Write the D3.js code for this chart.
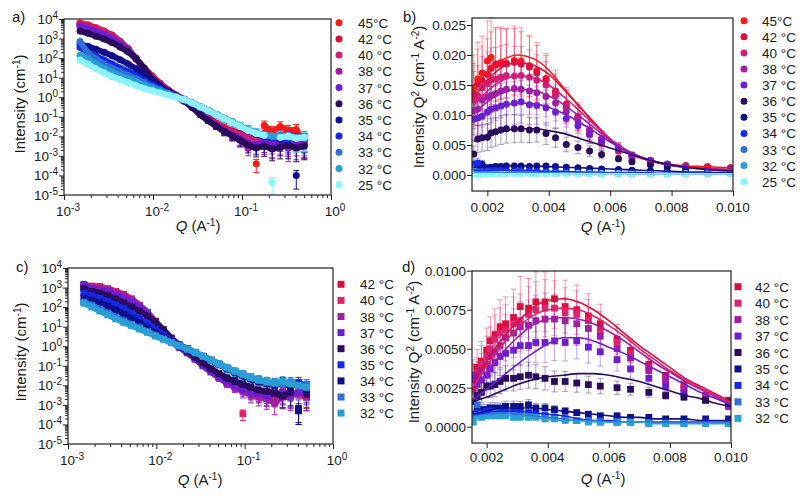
<!DOCTYPE html>
<meta charset="utf-8">
<script src="https://cdn.jsdelivr.net/npm/d3@7"></script>
<style>
body { margin: 0; background: #fff; }
svg text { font-family: "Liberation Sans", Arial, sans-serif; fill: #1a1a1a; }
.tick-label { font-size: 13.5px; }
.axis-title { font-size: 15px; }
.legend-label { font-size: 13.5px; }
.panel-label { font-size: 15px; }
.tick line { stroke: #222; }
</style>
<div id="vis"></div>
<script>

// ---------- legends / colours ----------
var labelsAB = ["45°C", "42 °C", "40 °C", "38 °C", "37 °C", "36 °C", "35 °C", "34 °C", "33 °C", "32 °C", "25 °C"];
var colorsAB = ["#ff1a1a", "#dc0f3c", "#d01e78", "#a01ea5", "#6e1ed2", "#2a0b5e", "#0f0f8c", "#1428e6", "#2f6fd8", "#2a9ed6", "#8ef2fa"];
var labelsCD = ["42 °C", "40 °C", "38 °C", "37 °C", "36 °C", "35 °C", "34 °C", "33 °C", "32 °C"];
var colorsC = ["#d8103c", "#e0226e", "#a01ea5", "#6e1ed2", "#2a0b5e", "#1428e6", "#0f0f8c", "#2f6fd8", "#2a9ed6"];
var colorsD = ["#d8103c", "#e0226e", "#a01ea5", "#6e1ed2", "#2a0b5e", "#0f0f8c", "#1428e6", "#2f6fd8", "#2a9ed6"];

// ---------- panels a and c: log10 Q grid and log10 intensity ----------
var logQ = [-2.82, -2.73, -2.64, -2.55, -2.46, -2.37, -2.28, -2.19, -2.10, -2.01, -1.92, -1.83, -1.74, -1.65, -1.56,
            -1.47, -1.38, -1.29, -1.20, -1.11, -1.02, -0.93, -0.84, -0.75, -0.66, -0.57, -0.48, -0.39, -0.30];
// relative error (sigma / I) at each Q of the log panels
var errRelLog = [0.02, 0.02, 0.02, 0.02, 0.02, 0.02, 0.02, 0.02, 0.03, 0.03, 0.04, 0.05, 0.06, 0.08, 0.12,
                 0.18, 0.25, 0.32, 0.40, 0.45, 0.55, 0.60, 0.65, 0.70, 0.75, 0.75, 0.80, 0.80, 0.80];

var a45 = [3.80, 3.70, 3.55, 3.38, 3.18, 2.86, 2.46, 1.95, 1.48, 1.10, 0.72, 0.38, 0.12, -0.10, -0.40, -0.78, -1.05, -1.32, -1.55, -1.72, -1.80, -1.75, -3.40, -1.45, -1.75, -1.50, -1.70, -1.65, -2.40];
var a42 = [3.77, 3.66, 3.53, 3.37, 3.17, 2.85, 2.49, 1.96, 1.46, 1.06, 0.70, 0.36, 0.10, -0.12, -0.42, -0.80, -1.08, -1.35, -1.58, -1.75, -1.88, -1.95, -2.05, -1.85, -2.15, -2.05, -1.80, -2.00, -2.15];
var a40 = [3.74, 3.62, 3.48, 3.32, 3.12, 2.81, 2.46, 1.98, 1.46, 1.02, 0.68, 0.34, 0.08, -0.14, -0.45, -0.82, -1.12, -1.38, -1.62, -1.80, -1.95, -2.10, -2.20, -2.05, -2.30, -2.15, -2.25, -2.10, -2.30];
var a38 = [3.67, 3.56, 3.42, 3.26, 3.06, 2.77, 2.45, 1.98, 1.46, 0.97, 0.65, 0.32, 0.06, -0.16, -0.48, -0.85, -1.15, -1.42, -1.68, -1.90, -2.10, -2.60, -2.50, -2.40, -2.55, -2.35, -2.60, -2.30, -2.40];
var a37 = [3.61, 3.48, 3.34, 3.18, 2.98, 2.71, 2.42, 1.98, 1.46, 0.92, 0.60, 0.30, 0.05, -0.18, -0.50, -0.86, -1.18, -1.45, -1.72, -1.95, -2.15, -2.35, -2.45, -2.30, -2.50, -2.40, -2.35, -2.50, -2.45];
var a36 = [3.38, 3.27, 3.12, 2.98, 2.80, 2.57, 2.32, 1.98, 1.50, 0.95, 0.60, 0.30, 0.05, -0.20, -0.52, -0.90, -1.20, -1.48, -1.75, -1.98, -2.20, -2.45, -2.60, -2.50, -2.65, -2.55, -2.45, -2.60, -2.50];
var a35 = [2.72, 2.60, 2.45, 2.30, 2.12, 1.92, 1.70, 1.45, 1.15, 0.85, 0.55, 0.30, 0.08, -0.12, -0.30, -0.50, -0.70, -0.90, -1.10, -1.30, -1.50, -1.70, -1.90, -2.00, -2.05, -2.15, -2.00, -4.00, -2.10];
var a34 = [2.55, 2.30, 2.10, 1.90, 1.70, 1.50, 1.30, 1.10, 0.85, 0.62, 0.42, 0.22, 0.05, -0.12, -0.30, -0.50, -0.70, -0.90, -1.10, -1.30, -1.52, -1.72, -1.88, -2.00, -2.10, -2.05, -2.15, -2.00, -2.10];
var a33 = [2.85, 2.25, 1.95, 1.70, 1.50, 1.30, 1.12, 0.95, 0.75, 0.55, 0.38, 0.20, 0.04, -0.12, -0.30, -0.48, -0.68, -0.88, -1.08, -1.28, -1.48, -1.68, -1.85, -1.95, -2.00, -1.95, -2.05, -2.10, -2.00];
var a32 = [2.15, 1.95, 1.70, 1.48, 1.28, 1.10, 0.95, 0.80, 0.62, 0.46, 0.30, 0.16, 0.02, -0.14, -0.30, -0.50, -0.68, -0.88, -1.08, -1.28, -1.48, -1.66, -1.82, -1.92, -1.98, -2.05, -1.95, -2.05, -2.10];
var a25 = [1.90, 1.68, 1.45, 1.25, 1.05, 0.90, 0.75, 0.60, 0.45, 0.33, 0.22, 0.10, 0.00, -0.12, -0.30, -0.50, -0.70, -0.90, -1.10, -1.30, -1.50, -1.70, -1.85, -1.95, -4.35, -2.05, -2.00, -2.10, -2.05];

var c42 = [3.05, 3.08, 3.05, 2.94, 2.81, 2.65, 2.42, 2.10, 1.73, 1.28, 0.75, 0.30, 0.00, -0.28, -0.60, -0.95, -1.28, -1.55, -1.78, -1.95, -2.10, -2.25, -2.35, -2.40, -2.50, -2.40, -2.45, -2.35, -2.50];
var c40 = [3.12, 3.04, 3.02, 2.92, 2.79, 2.62, 2.40, 2.09, 1.72, 1.25, 0.72, 0.28, -0.02, -0.30, -0.62, -0.98, -1.30, -1.60, -1.85, -2.05, -3.45, -2.30, -2.45, -2.50, -2.45, -2.55, -2.40, -2.50, -2.60];
var c38 = [3.16, 3.02, 2.98, 2.89, 2.75, 2.58, 2.37, 2.07, 1.71, 1.20, 0.70, 0.26, -0.04, -0.32, -0.65, -1.00, -1.32, -1.62, -1.90, -2.10, -2.30, -2.50, -2.60, -2.70, -2.90, -2.60, -2.60, -3.30, -2.60];
var c37 = [3.13, 2.92, 2.82, 2.79, 2.65, 2.47, 2.28, 2.01, 1.68, 1.13, 0.66, 0.24, -0.06, -0.34, -0.66, -1.00, -1.30, -1.58, -1.82, -2.00, -2.20, -2.35, -2.40, -2.55, -2.45, -2.35, -2.50, -2.40, -2.30];
var c36 = [2.95, 2.80, 2.71, 2.59, 2.43, 2.22, 2.01, 1.78, 1.54, 1.25, 0.85, 0.42, 0.05, -0.25, -0.55, -0.85, -1.15, -1.40, -1.62, -1.80, -1.95, -2.10, -2.25, -2.30, -2.40, -2.55, -2.35, -3.20, -2.45];
var c35 = [2.70, 2.58, 2.45, 2.30, 2.12, 1.92, 1.68, 1.42, 1.15, 0.88, 0.58, 0.30, 0.08, -0.12, -0.32, -0.52, -0.72, -0.92, -1.12, -1.32, -1.50, -1.65, -1.78, -1.85, -1.95, -1.90, -2.00, -1.85, -2.05];
var c34 = [2.45, 2.35, 2.22, 2.05, 1.85, 1.65, 1.42, 1.18, 0.92, 0.68, 0.45, 0.24, 0.05, -0.14, -0.34, -0.54, -0.74, -0.94, -1.14, -1.34, -1.52, -1.68, -1.82, -1.92, -2.00, -1.85, -2.10, -3.30, -2.20];
var c33 = [2.25, 2.10, 1.90, 1.70, 1.50, 1.30, 1.12, 0.95, 0.75, 0.55, 0.38, 0.20, 0.03, -0.14, -0.32, -0.50, -0.70, -0.90, -1.10, -1.28, -1.45, -1.62, -1.75, -1.85, -1.90, -1.95, -1.85, -2.05, -1.95];
var c32 = [2.20, 2.00, 1.80, 1.60, 1.40, 1.22, 1.05, 0.88, 0.70, 0.52, 0.35, 0.18, 0.02, -0.15, -0.33, -0.52, -0.72, -0.92, -1.10, -1.28, -1.45, -1.60, -1.72, -1.82, -1.88, -1.80, -1.92, -2.00, -2.10];

// ---------- panels b and d: I*Q^2 on a linear Q grid ----------
var qS = [0.00156, 0.00169, 0.00183, 0.00200, 0.00212, 0.00227, 0.00244, 0.00262, 0.00288, 0.00310, 0.00337, 0.00361, 0.00391,
          0.00422, 0.00457, 0.00495, 0.00533, 0.00572, 0.00627, 0.00671, 0.00731, 0.00786, 0.00846, 0.00917, 0.00992];
var errRelB = [0.38, 0.38, 0.36, 0.35, 0.34, 0.33, 0.32, 0.31, 0.30, 0.29, 0.28, 0.27, 0.26, 0.25, 0.24, 0.23, 0.22, 0.20, 0.18, 0.15, 0.12, 0.10, 0.08, 0.06, 0.05];
var errRelD = [0.30, 0.30, 0.30, 0.29, 0.28, 0.28, 0.27, 0.26, 0.26, 0.25, 0.25, 0.24, 0.24, 0.23, 0.22, 0.21, 0.20, 0.19, 0.17, 0.16, 0.14, 0.12, 0.11, 0.10, 0.09];

var b45 = [0.0145, 0.0160, 0.0170, 0.0190, 0.0196, 0.0183, 0.0185, 0.0186, 0.0191, 0.0190, 0.0182, 0.0174, 0.0161, 0.0135, 0.0112, 0.0096, 0.0067, 0.0053, 0.0040, 0.0027, 0.0020, 0.0018, 0.0016, 0.0014, 0.0012];
var b42 = [0.0135, 0.0152, 0.0158, 0.0168, 0.0178, 0.0185, 0.0187, 0.0186, 0.0188, 0.0185, 0.0180, 0.0170, 0.0158, 0.0140, 0.0118, 0.0098, 0.0075, 0.0060, 0.0045, 0.0032, 0.0024, 0.0018, 0.0015, 0.0013, 0.0012];
var b40 = [0.0125, 0.0132, 0.0145, 0.0152, 0.0158, 0.0160, 0.0163, 0.0166, 0.0165, 0.0166, 0.0163, 0.0158, 0.0150, 0.0132, 0.0115, 0.0095, 0.0075, 0.0060, 0.0046, 0.0033, 0.0024, 0.0018, 0.0014, 0.0012, 0.0011];
var b38 = [0.0107, 0.0110, 0.0125, 0.0130, 0.0133, 0.0136, 0.0140, 0.0143, 0.0144, 0.0143, 0.0140, 0.0137, 0.0131, 0.0120, 0.0105, 0.0090, 0.0073, 0.0058, 0.0045, 0.0033, 0.0024, 0.0018, 0.0014, 0.0011, 0.0010];
var b37 = [0.0093, 0.0095, 0.0098, 0.0105, 0.0110, 0.0112, 0.0115, 0.0118, 0.0120, 0.0122, 0.0117, 0.0116, 0.0112, 0.0105, 0.0094, 0.0082, 0.0068, 0.0055, 0.0043, 0.0032, 0.0024, 0.0018, 0.0014, 0.0011, 0.0009];
var b36 = [0.0035, 0.0060, 0.0062, 0.0063, 0.0070, 0.0072, 0.0075, 0.0077, 0.0077, 0.0077, 0.0075, 0.0075, 0.0069, 0.0062, 0.0051, 0.0046, 0.0040, 0.0034, 0.0027, 0.0022, 0.0017, 0.0013, 0.0010, 0.0009, 0.0008];
var b35 = [0.0012, 0.0016, 0.0018, 0.0012, 0.0013, 0.0014, 0.0014, 0.0015, 0.0015, 0.0015, 0.0014, 0.0015, 0.0015, 0.0014, 0.0013, 0.0012, 0.0011, 0.0010, 0.0009, 0.0008, 0.0007, 0.0006, 0.0005, 0.0005, 0.0004];
var b34 = [0.0018, 0.0020, 0.0009, 0.0008, 0.0008, 0.0008, 0.0008, 0.0007, 0.0007, 0.0007, 0.0007, 0.0006, 0.0006, 0.0006, 0.0005, 0.0005, 0.0005, 0.0004, 0.0004, 0.0004, 0.0003, 0.0003, 0.0003, 0.0003, 0.0003];
var b33 = [0.0010, 0.0005, 0.0005, 0.0005, 0.0004, 0.0004, 0.0004, 0.0004, 0.0004, 0.0004, 0.0003, 0.0003, 0.0003, 0.0003, 0.0003, 0.0003, 0.0003, 0.0002, 0.0002, 0.0002, 0.0002, 0.0002, 0.0002, 0.0002, 0.0002];
var b32 = [0.0006, 0.0004, 0.0003, 0.0003, 0.0003, 0.0003, 0.0003, 0.0003, 0.0003, 0.0003, 0.0003, 0.0002, 0.0002, 0.0002, 0.0002, 0.0002, 0.0002, 0.0002, 0.0002, 0.0002, 0.0002, 0.0002, 0.0002, 0.0002, 0.0002];
var b25 = [0.0002, 0.0000, 0.0001, 0.0002, 0.0002, 0.0002, 0.0002, 0.0002, 0.0002, 0.0002, 0.0002, 0.0002, 0.0002, 0.0002, 0.0002, 0.0002, 0.0002, 0.0002, 0.0002, 0.0002, 0.0002, 0.0002, 0.0002, 0.0002, 0.0002];

var d42 = [0.0024, 0.0038, 0.0042, 0.0049, 0.0055, 0.0059, 0.0064, 0.0066, 0.0070, 0.0077, 0.0076, 0.0080, 0.0080, 0.0082, 0.0077, 0.0075, 0.0071, 0.0066, 0.0056, 0.0049, 0.0040, 0.0033, 0.0027, 0.0020, 0.0017];
var d40 = [0.0030, 0.0034, 0.0040, 0.0045, 0.0050, 0.0056, 0.0060, 0.0062, 0.0066, 0.0068, 0.0072, 0.0075, 0.0076, 0.0076, 0.0073, 0.0072, 0.0068, 0.0062, 0.0054, 0.0047, 0.0038, 0.0031, 0.0025, 0.0019, 0.0016];
var d38 = [0.0033, 0.0032, 0.0036, 0.0040, 0.0045, 0.0048, 0.0052, 0.0057, 0.0060, 0.0064, 0.0065, 0.0068, 0.0069, 0.0069, 0.0068, 0.0066, 0.0063, 0.0058, 0.0050, 0.0044, 0.0036, 0.0030, 0.0024, 0.0018, 0.0014];
var d37 = [0.0031, 0.0027, 0.0030, 0.0033, 0.0037, 0.0041, 0.0045, 0.0047, 0.0049, 0.0052, 0.0052, 0.0054, 0.0054, 0.0055, 0.0054, 0.0055, 0.0051, 0.0048, 0.0043, 0.0037, 0.0031, 0.0026, 0.0021, 0.0017, 0.0013];
var d36 = [0.0016, 0.0020, 0.0022, 0.0026, 0.0026, 0.0027, 0.0029, 0.0031, 0.0031, 0.0032, 0.0033, 0.0032, 0.0031, 0.0029, 0.0029, 0.0028, 0.0027, 0.0026, 0.0025, 0.0024, 0.0022, 0.0020, 0.0019, 0.0017, 0.0016];
var d35 = [0.0008, 0.0010, 0.0011, 0.0011, 0.0012, 0.0012, 0.0012, 0.0013, 0.0013, 0.0013, 0.0014, 0.0012, 0.0012, 0.0011, 0.0010, 0.0009, 0.0008, 0.0007, 0.0007, 0.0006, 0.0006, 0.0005, 0.0005, 0.0005, 0.0005];
var d34 = [0.0007, 0.0009, 0.0009, 0.0010, 0.0010, 0.0010, 0.0010, 0.0010, 0.0009, 0.0009, 0.0009, 0.0008, 0.0007, 0.0006, 0.0005, 0.0004, 0.0004, 0.0004, 0.0003, 0.0003, 0.0003, 0.0003, 0.0003, 0.0003, 0.0003];
var d33 = [0.0006, 0.0014, 0.0008, 0.0008, 0.0008, 0.0009, 0.0008, 0.0008, 0.0008, 0.0007, 0.0007, 0.0007, 0.0006, 0.0006, 0.0005, 0.0004, 0.0004, 0.0003, 0.0003, 0.0003, 0.0003, 0.0003, 0.0002, 0.0002, 0.0002];
var d32 = [0.0003, 0.0007, 0.0006, 0.0007, 0.0007, 0.0007, 0.0007, 0.0007, 0.0006, 0.0006, 0.0006, 0.0006, 0.0005, 0.0005, 0.0004, 0.0004, 0.0003, 0.0003, 0.0003, 0.0003, 0.0002, 0.0002, 0.0002, 0.0002, 0.0002];

// fitted curves (panels b and d)
var qFit = [0.00155, 0.0020, 0.0025, 0.0030, 0.0035, 0.0040, 0.0045, 0.0050, 0.0055, 0.0060, 0.0065, 0.0070, 0.0075, 0.0080, 0.0085, 0.0090, 0.0095, 0.0100];
var fb45 = [0.0150, 0.0172, 0.0192, 0.0200, 0.0194, 0.0175, 0.0144, 0.0114, 0.0086, 0.0058, 0.0039, 0.0028, 0.0021, 0.0017, 0.0015, 0.0014, 0.0013, 0.0012];
var fb42 = [0.0128, 0.0158, 0.0180, 0.0187, 0.0183, 0.0168, 0.0142, 0.0114, 0.0086, 0.0060, 0.0041, 0.0029, 0.0021, 0.0016, 0.0013, 0.0011, 0.0010, 0.0009];
var fb40 = [0.0115, 0.0140, 0.0158, 0.0165, 0.0162, 0.0150, 0.0130, 0.0107, 0.0083, 0.0060, 0.0042, 0.0029, 0.0021, 0.0016, 0.0013, 0.0011, 0.0010, 0.0009];
var fb38 = [0.0102, 0.0122, 0.0137, 0.0143, 0.0141, 0.0132, 0.0117, 0.0098, 0.0078, 0.0058, 0.0042, 0.0030, 0.0022, 0.0016, 0.0013, 0.0011, 0.0009, 0.0008];
var fb37 = [0.0088, 0.0104, 0.0115, 0.0120, 0.0119, 0.0113, 0.0102, 0.0088, 0.0072, 0.0055, 0.0041, 0.0030, 0.0022, 0.0016, 0.0012, 0.0010, 0.0008, 0.0007];
var fb36 = [0.0056, 0.0066, 0.0073, 0.0077, 0.0077, 0.0074, 0.0069, 0.0061, 0.0053, 0.0045, 0.0037, 0.0029, 0.0022, 0.0017, 0.0013, 0.0010, 0.0008, 0.0007];
var fb35 = [0.0013, 0.0014, 0.0015, 0.0015, 0.0015, 0.0014, 0.0013, 0.0012, 0.0011, 0.0010, 0.0009, 0.0008, 0.0007, 0.0006, 0.0005, 0.0005, 0.0004, 0.0004];
var fb34 = [0.0008, 0.0008, 0.0008, 0.0007, 0.0007, 0.0006, 0.0006, 0.0005, 0.0005, 0.0004, 0.0004, 0.0004, 0.0003, 0.0003, 0.0003, 0.0003, 0.0003, 0.0003];
var fb33 = [0.0005, 0.0005, 0.0004, 0.0004, 0.0004, 0.0004, 0.0003, 0.0003, 0.0003, 0.0003, 0.0003, 0.0002, 0.0002, 0.0002, 0.0002, 0.0002, 0.0002, 0.0002];
var fb32 = [0.0003, 0.0003, 0.0003, 0.0003, 0.0003, 0.0003, 0.0002, 0.0002, 0.0002, 0.0002, 0.0002, 0.0002, 0.0002, 0.0002, 0.0002, 0.0002, 0.0002, 0.0002];
var fb25 = [0.0002, 0.0002, 0.0002, 0.0002, 0.0002, 0.0002, 0.0002, 0.0002, 0.0002, 0.0002, 0.0002, 0.0002, 0.0002, 0.0002, 0.0002, 0.0002, 0.0002, 0.0002];

var fd42 = [0.0028, 0.0042, 0.0056, 0.0067, 0.0076, 0.0081, 0.0082, 0.0080, 0.0075, 0.0068, 0.0060, 0.0052, 0.0045, 0.0038, 0.0031, 0.0026, 0.0021, 0.0016];
var fd40 = [0.0025, 0.0039, 0.0052, 0.0063, 0.0071, 0.0075, 0.0076, 0.0075, 0.0071, 0.0065, 0.0058, 0.0050, 0.0043, 0.0036, 0.0030, 0.0025, 0.0020, 0.0015];
var fd38 = [0.0022, 0.0035, 0.0047, 0.0057, 0.0065, 0.0069, 0.0070, 0.0069, 0.0066, 0.0061, 0.0055, 0.0048, 0.0041, 0.0035, 0.0029, 0.0024, 0.0019, 0.0014];
var fd37 = [0.0017, 0.0024, 0.0032, 0.0040, 0.0047, 0.0053, 0.0057, 0.0057, 0.0055, 0.0051, 0.0047, 0.0042, 0.0037, 0.0032, 0.0027, 0.0022, 0.0018, 0.0014];
var fd36 = [0.0016, 0.0019, 0.0023, 0.0027, 0.0030, 0.0032, 0.0033, 0.0034, 0.0034, 0.0033, 0.0031, 0.0029, 0.0026, 0.0023, 0.0020, 0.0018, 0.0015, 0.0013];
var fd35 = [0.0008, 0.0010, 0.0012, 0.0012, 0.0012, 0.0011, 0.0010, 0.0009, 0.0008, 0.0007, 0.0006, 0.0006, 0.0005, 0.0005, 0.0005, 0.0004, 0.0004, 0.0004];
var fd34 = [0.0007, 0.0009, 0.0010, 0.0010, 0.0009, 0.0008, 0.0007, 0.0005, 0.0004, 0.0004, 0.0003, 0.0003, 0.0003, 0.0003, 0.0003, 0.0003, 0.0003, 0.0003];
var fd33 = [0.0007, 0.0008, 0.0009, 0.0008, 0.0007, 0.0006, 0.0005, 0.0004, 0.0004, 0.0003, 0.0003, 0.0003, 0.0003, 0.0003, 0.0003, 0.0003, 0.0003, 0.0003];
var fd32 = [0.0006, 0.0007, 0.0007, 0.0007, 0.0006, 0.0005, 0.0004, 0.0004, 0.0003, 0.0003, 0.0003, 0.0003, 0.0002, 0.0002, 0.0002, 0.0002, 0.0002, 0.0002];

var seriesA = [a45, a42, a40, a38, a37, a36, a35, a34, a33, a32, a25];
var seriesC = [c42, c40, c38, c37, c36, c35, c34, c33, c32];
var seriesB = [b45, b42, b40, b38, b37, b36, b35, b34, b33, b32, b25];
var seriesD = [d42, d40, d38, d37, d36, d35, d34, d33, d32];
var fitsB = [fb45, fb42, fb40, fb38, fb37, fb36, fb35, fb34, fb33, fb32, fb25];
var fitsD = [fd42, fd40, fd38, fd37, fd36, fd35, fd34, fd33, fd32];

// ---------- svg ----------
var svg = d3.select("#vis").append("svg").attr("width", 800).attr("height", 498);
var defs = svg.append("defs");

function sup(textSel, parts) {
  // parts: list of [string, isSuperscript]
  var raised = false;
  parts.forEach(function(p) {
    var t = textSel.append("tspan").text(p[0]);
    if (p[1] && !raised) { t.attr("dy", -5).style("font-size", "10px"); raised = true; }
    else if (p[1]) { t.style("font-size", "10px"); }
    else if (raised) { t.attr("dy", 5); raised = false; }
  });
}

function frame(g, box) {
  g.append("rect")
    .attr("x", box.left).attr("y", box.top)
    .attr("width", box.right - box.left).attr("height", box.bottom - box.top)
    .attr("fill", "none").attr("stroke", "#222").attr("stroke-width", 1.2);
}

function clip(name, box) {
  defs.append("clipPath").attr("id", name).append("rect")
    .attr("x", box.left).attr("y", box.top - 1)
    .attr("width", box.right - box.left).attr("height", box.bottom - box.top + 1);
  return svg.append("g").attr("clip-path", "url(#" + name + ")");
}

function logAxes(g, x, y, box, xExps, yExps, xLabelDy) {
  var minors = function(exps) {
    var m = [];
    exps.slice(0, -1).forEach(function(e) { for (var k = 2; k < 10; k++) m.push(k * Math.pow(10, e)); });
    return m;
  };
  var p10 = function(e) { return Math.pow(10, e); };
  var gx = g.append("g").attr("transform", "translate(0," + box.bottom + ")");
  gx.append("g").call(d3.axisBottom(x).tickValues(xExps.map(p10)).tickSize(5).tickFormat(""));
  gx.append("g").call(d3.axisBottom(x).tickValues(minors(xExps)).tickSize(3).tickFormat(""));
  gx.selectAll(".domain").remove();
  var gy = g.append("g").attr("transform", "translate(" + box.left + ",0)");
  gy.append("g").call(d3.axisLeft(y).tickValues(yExps.map(p10)).tickSize(5).tickFormat(""));
  gy.append("g").call(d3.axisLeft(y).tickValues(minors(yExps)).tickSize(3).tickFormat(""));
  gy.selectAll(".domain").remove();

  g.selectAll("text.xl").data(xExps).enter().append("text")
    .attr("class", "tick-label")
    .attr("x", function(e) { return x(p10(e)) + 4; })
    .attr("y", box.bottom + xLabelDy)
    .attr("text-anchor", "middle")
    .each(function(e) { sup(d3.select(this), [["10", false], [String(e), true]]); });
  g.selectAll("text.yl").data(yExps).enter().append("text")
    .attr("class", "tick-label")
    .attr("x", box.left - 6)
    .attr("y", function(e) { return y(p10(e)) + 5; })
    .attr("text-anchor", "end")
    .each(function(e) { sup(d3.select(this), [["10", false], [String(e), true]]); });
}

function linAxes(g, x, y, box, xTicks, yTicks, xFmt, yFmt, xLabelDy) {
  g.append("g").attr("transform", "translate(0," + box.bottom + ")")
    .call(d3.axisBottom(x).tickValues(xTicks).tickSize(5).tickFormat(""))
    .selectAll(".domain").remove();
  g.append("g").attr("transform", "translate(" + box.left + ",0)")
    .call(d3.axisLeft(y).tickValues(yTicks).tickSize(5).tickFormat(""))
    .selectAll(".domain").remove();
  g.selectAll("text.xl").data(xTicks).enter().append("text")
    .attr("class", "tick-label")
    .attr("x", function(d) { return x(d); })
    .attr("y", box.bottom + xLabelDy)
    .attr("text-anchor", "middle")
    .text(d3.format(xFmt));
  g.selectAll("text.yl").data(yTicks).enter().append("text")
    .attr("class", "tick-label")
    .attr("x", box.left - 6)
    .attr("y", function(d) { return y(d) + 5; })
    .attr("text-anchor", "end")
    .text(d3.format(yFmt));
}

function errorBars(g, pts, color, opacity) {
  var eg = g.append("g").attr("stroke", color).attr("stroke-opacity", opacity).attr("stroke-width", 1);
  pts.forEach(function(p) {
    eg.append("line").attr("x1", p.x).attr("x2", p.x).attr("y1", p.y0).attr("y2", p.y1);
    eg.append("line").attr("x1", p.x - 3).attr("x2", p.x + 3).attr("y1", p.y0).attr("y2", p.y0);
    eg.append("line").attr("x1", p.x - 3).attr("x2", p.x + 3).attr("y1", p.y1).attr("y2", p.y1);
  });
}

function markers(g, pts, color, shape) {
  if (shape === "circle") {
    g.append("g").selectAll("circle").data(pts).enter().append("circle")
      .attr("cx", function(p) { return p.x; }).attr("cy", function(p) { return p.y; })
      .attr("r", 3.5).attr("fill", color);
  } else {
    g.append("g").selectAll("rect").data(pts).enter().append("rect")
      .attr("x", function(p) { return p.x - 3.4; }).attr("y", function(p) { return p.y - 3.4; })
      .attr("width", 6.8).attr("height", 6.8).attr("fill", color);
  }
}

function legend(labels, colors, shape, mx, tx, y0, step) {
  labels.forEach(function(l, i) {
    var y = y0 + i * step;
    if (shape === "circle") {
      svg.append("circle").attr("cx", mx).attr("cy", y).attr("r", 3.5).attr("fill", colors[i]);
    } else {
      svg.append("rect").attr("x", mx - 3.5).attr("y", y - 3.5).attr("width", 7).attr("height", 7).attr("fill", colors[i]);
    }
    svg.append("text").attr("class", "legend-label").attr("x", tx).attr("y", y + 5).text(l);
  });
}

function yTitle(x, y, parts) {
  var t = svg.append("text").attr("class", "axis-title")
    .attr("transform", "translate(" + x + "," + y + ") rotate(-90)")
    .attr("text-anchor", "middle");
  sup(t, parts);
}

function xTitle(x, y) {
  var t = svg.append("text").attr("class", "axis-title").attr("x", x).attr("y", y).attr("text-anchor", "middle");
  t.append("tspan").style("font-style", "italic").text("Q");
  sup(t, [[" (A", false], ["-1", true], [")", false]]);
}

function panelLabel(x, y, s) {
  svg.append("text").attr("class", "panel-label").attr("x", x).attr("y", y).text(s);
}

// ---------- log-log panels (a, c) ----------
function logPanel(name, box, series, colors, shape) {
  var x = d3.scaleLog().domain([1e-3, 1]).range([box.left, box.right]);
  var y = d3.scaleLog().domain([1e-5, 1e4]).range([box.bottom, box.top]);
  var plot = clip("clip-" + name, box);
  series.forEach(function(s, k) {
    var pts = [];
    s.forEach(function(v, i) {
      if (errRelLog[i] < 0.1) return;
      var I = Math.pow(10, v), r = errRelLog[i];
      pts.push({ x: x(Math.pow(10, logQ[i])), y0: y(Math.max(I * (1 - r), 1e-6)), y1: y(I * (1 + r)) });
    });
    errorBars(plot, pts, colors[k], 1);
  });
  // dense measured points: a thick trace under the markers, broken at isolated low points
  var trace = d3.line()
    .defined(function(v) { return v > -3; })
    .x(function(v, i) { return x(Math.pow(10, logQ[i])); })
    .y(function(v) { return y(Math.pow(10, v)); });
  series.forEach(function(s, k) {
    plot.append("path").attr("d", trace(s)).attr("fill", "none")
      .attr("stroke", colors[k]).attr("stroke-width", 6)
      .attr("stroke-linejoin", "round")
      .attr("stroke-linecap", shape === "circle" ? "round" : "square");
    var pts = s.map(function(v, i) { return { x: x(Math.pow(10, logQ[i])), y: y(Math.pow(10, v)) }; });
    markers(plot, pts, colors[k], shape);
  });
  var g = svg.append("g");
  frame(g, box);
  logAxes(g, x, y, box, [-3, -2, -1, 0], [-5, -4, -3, -2, -1, 0, 1, 2, 3, 4], 21);
}

// ---------- linear panels (b, d) ----------
function linPanel(name, box, series, fits, errRel, colors, shape, xDom, yDom, yRange) {
  var x = d3.scaleLinear().domain(xDom).range([box.left, box.right]);
  var y = d3.scaleLinear().domain(yDom).range(yRange);
  var plot = clip("clip-" + name, box);
  series.forEach(function(s, k) {
    var pts = s.map(function(v, i) {
      return { x: x(qS[i]), y0: y(v * (1 - errRel[i])), y1: y(v * (1 + errRel[i])) };
    });
    errorBars(plot, pts, colors[k], 0.4);
  });
  series.forEach(function(s, k) {
    markers(plot, s.map(function(v, i) { return { x: x(qS[i]), y: y(v) }; }), colors[k], shape);
  });
  var line = d3.line().x(function(d, i) { return x(qFit[i]); }).y(function(d) { return y(d); }).curve(d3.curveMonotoneX);
  fits.forEach(function(f, k) {
    plot.append("path").attr("d", line(f)).attr("fill", "none").attr("stroke", colors[k]).attr("stroke-width", 1.6);
  });
  var g = svg.append("g");
  frame(g, box);
  return { x: x, y: y, g: g };
}

// panel a
logPanel("a", { left: 64, right: 331, top: 19, bottom: 195 }, seriesA, colorsAB, "circle");
panelLabel(12, 22, "a)");
yTitle(25, 104, [["Intensity (cm", false], ["-1", true], [")", false]]);
xTitle(198, 231);
legend(labelsAB, colorsAB, "circle", 339, 358, 22.7, 16.2);

// panel c
logPanel("c", { left: 68, right: 333, top: 268, bottom: 444 }, seriesC, colorsC, "square");
panelLabel(16, 272, "c)");
yTitle(26, 352, [["Intensity (cm", false], ["-1", true], [")", false]]);
xTitle(200, 485);
legend(labelsCD, colorsC, "square", 341, 360, 284.3, 16.1);

// panel b
var boxB = { left: 472, right: 733, top: 18, bottom: 191 };
var pb = linPanel("b", boxB, seriesB, fitsB, errRelB, colorsAB, "circle", [0.0015, 0.0100], [0, 0.025], [175, 25]);
linAxes(pb.g, pb.x, pb.y, boxB, [0.002, 0.004, 0.006, 0.008, 0.010], [0, 0.005, 0.010, 0.015, 0.020, 0.025], ".3f", ".3f", 21);
panelLabel(403, 22, "b)");
yTitle(424, 97, [["Intensity Q", false], ["2", true], [" (cm", false], ["-1", true], [" A", false], ["-2", true], [")", false]]);
xTitle(603, 232);
legend(labelsAB, colorsAB, "circle", 744, 762, 20.7, 16.1);

// panel d
var boxD = { left: 472, right: 731, top: 271, bottom: 443 };
var pd = linPanel("d", boxD, seriesD, fitsD, errRelD, colorsD, "square", [0.00152, 0.0100], [0, 0.0100], [426.7, 270.7]);
linAxes(pd.g, pd.x, pd.y, boxD, [0.002, 0.004, 0.006, 0.008, 0.010], [0, 0.0025, 0.0050, 0.0075, 0.0100], ".3f", ".4f", 19);
panelLabel(402, 272, "d)");
yTitle(419, 352, [["Intensity Q", false], ["2", true], [" (cm", false], ["-1", true], [" A", false], ["-2", true], [")", false]]);
xTitle(603, 484);
legend(labelsCD, colorsD, "square", 738, 755, 286.7, 16.45);

</script>
